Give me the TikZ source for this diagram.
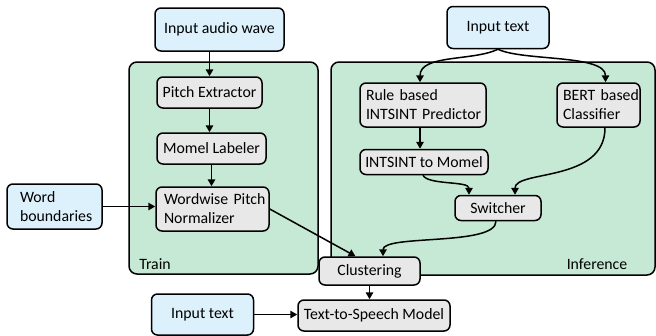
\documentclass[tikz,border=0pt]{standalone}
\usepackage{fontspec}
\setmainfont{Carlito}
\usetikzlibrary{arrows.meta}
\definecolor{inblue}{RGB}{220,241,252}
\definecolor{procgray}{RGB}{232,232,232}
\definecolor{regiongreen}{RGB}{198,233,213}
\newcommand{\diafont}{\fontsize{15.8}{19}\selectfont}
\tikzset{
  base/.style={draw=black, line width=1.5pt, rounded corners=6pt, inner sep=0pt, font=\diafont},
  inbox/.style={base, fill=inblue},
  procbox/.style={base, fill=procgray},
  leftbox/.style={align=left, inner ysep=0pt},
  arr/.style={line width=1.5pt, -{Triangle[length=7pt,width=7.5pt]}},
  region/.style={draw=black, line width=1.5pt, rounded corners=8pt, fill=regiongreen},
  lbl/.style={font=\diafont, inner sep=0pt}
}
\begin{document}
\begin{tikzpicture}[x=1pt,y=-1pt]
\useasboundingbox (0,0) rectangle (656,335);
% regions
\draw[region] (129,62) rectangle (318,274);
\draw[region] (331,62) rectangle (655,275);
\node[lbl] (trainlbl) at (155,264) {Train};
\node[lbl] (inflbl) at (597,264) {Inference};
% train side
\node[inbox, minimum width=129pt, minimum height=43pt] (audio) at (219.5,29.5) {Input audio wave};
\node[procbox, minimum width=105pt, minimum height=31pt] (pitch) at (209.5,92.5) {Pitch Extractor};
\node[procbox, minimum width=109pt, minimum height=31pt] (momel) at (211.5,148.5) {Momel Labeler};
\node[procbox, leftbox, inner xsep=8pt, text width=97pt, minimum height=44pt] (wordwise) at (212.5,209) {\mbox{Wordwise Pitch}\\\mbox{Normalizer}};
\node[inbox, leftbox, inner xsep=13pt, text width=69pt, minimum height=45pt] (wb) at (54.5,206.5) {\mbox{Word}\\\mbox{boundaries}};
% inference side
\node[inbox, minimum width=102pt, minimum height=42pt] (itop) at (498,27.5) {Input text};
\node[procbox, leftbox, inner xsep=6pt, text width=114pt, minimum height=44pt] (rule) at (423,105) {\mbox{Rule based}\\\mbox{INTSINT Predictor}};
\node[procbox, leftbox, inner xsep=6pt, text width=71pt, minimum height=44pt] (bert) at (598.5,105) {\mbox{BERT based}\\\mbox{Classifier}};
\node[procbox, minimum width=128pt, minimum height=25pt] (i2m) at (424,162) {INTSINT to Momel};
\node[procbox, minimum width=86pt, minimum height=25pt] (sw) at (498,208) {Switcher};
% bottom
\node[procbox, minimum width=101pt, minimum height=28pt] (clust) at (369.5,271) {Clustering};
\node[procbox, minimum width=152pt, minimum height=31pt] (tts) at (374,315.5) {Text-to-Speech Model};
\node[inbox, minimum width=102pt, minimum height=41pt] (ibot) at (202.5,314.5) {Input text};
% connectors
\draw[arr] (audio.south -| pitch.north) -- (pitch.north);
\draw[arr] (pitch.south) -- (pitch.south |- momel.north);
\draw[arr] (momel.south) -- (momel.south |- wordwise.north);
\draw[arr] (wb.east) -- (wb.east -| wordwise.west);
\draw[arr] (wordwise.east) -- ([xshift=-14pt]clust.north);
\draw[arr] (itop.south) .. controls +(-25,12) and +(0,-28) .. ([xshift=-3pt]rule.north);
\draw[arr] (itop.south) .. controls +(25,12) and +(0,-28) .. ([xshift=7pt]bert.north);
\draw[arr] ([xshift=-3pt]rule.south) -- ([xshift=-3pt]rule.south |- i2m.north);
\draw[arr] ([xshift=-1pt]i2m.south) .. controls +(5,10) and +(0,-14) .. ([xshift=-29pt]sw.north);
\draw[arr] ([xshift=6.5pt]bert.south) .. controls +(0,55) and +(0,-25) .. ([xshift=17pt]sw.north);
\draw[arr] ([xshift=-2pt]sw.south) .. controls +(0,25) and +(0,-22) .. ([xshift=13.5pt]clust.north);
\draw[arr] (clust.south) -- (clust.south |- tts.north);
\draw[arr] (ibot.east) -- (ibot.east -| tts.west);
\end{tikzpicture}
\end{document}
